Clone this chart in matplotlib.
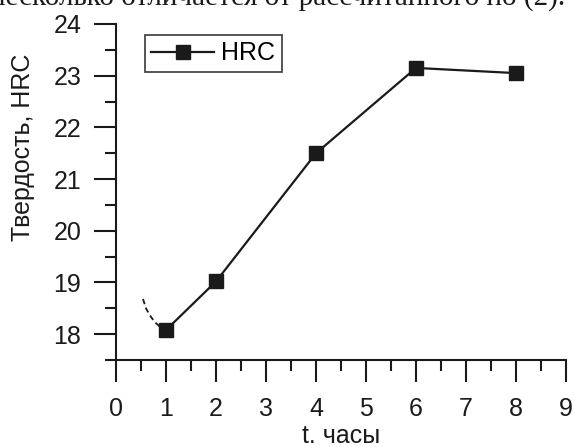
import matplotlib
matplotlib.use("Agg")
import matplotlib.pyplot as plt
from matplotlib.ticker import MultipleLocator

plt.rcParams['font.family'] = ['Liberation Sans', 'DejaVu Sans']

hours = [1, 2, 4, 6, 8]
hrc = [18.08, 19.02, 21.5, 23.15, 23.05]
dash_x = [0.54, 0.6, 0.68, 0.77, 0.87]
dash_y = [18.68, 18.5, 18.36, 18.24, 18.15]
xticks = list(range(0, 10))
yticks = list(range(18, 25))
header = "несколько отличается от рассчитанного по (2)."

FS = 18
fig = plt.figure(figsize=(5.74, 4.47), dpi=100)
ax = fig.add_axes([116/574, 1-360/447, 450/574, 336/447])

ax.plot(hours, hrc, color='#1a1a1a', lw=1.6, marker='s', ms=10, mfc='#1a1a1a', mec='#1a1a1a', label='HRC', zorder=3)
ax.plot(dash_x, dash_y, color='#1a1a1a', lw=1.3, ls=(0, (3, 2)))

ax.set_xlim(0, 9)
ax.set_ylim(17.5, 24)
ax.set_xticks(xticks)
ax.set_yticks(yticks)
ax.xaxis.set_minor_locator(MultipleLocator(0.5))
ax.yaxis.set_minor_locator(MultipleLocator(0.5))
for s in ['top', 'right']:
    ax.spines[s].set_visible(False)
for s in ['left', 'bottom']:
    ax.spines[s].set_linewidth(1.5)
    ax.spines[s].set_color('#1a1a1a')
ax.tick_params(axis='both', which='major', direction='out', length=16, width=1.5, colors='#1a1a1a', labelsize=FS, labelcolor='#1a1a1a')
ax.tick_params(axis='both', which='minor', direction='out', length=8, width=1.5, colors='#1a1a1a')
ax.tick_params(axis='x', which='major', pad=11)
ax.tick_params(axis='y', which='major', pad=9)
fig.text(341/574, 1-443/447, 't. часы', ha='center', va='baseline', fontsize=FS, color='#1a1a1a')
fig.text(23/574, 1-147/447, 'Твердость, HRC', rotation=90, ha='center', va='center', fontsize=FS, color='#1a1a1a')

leg = ax.legend(loc='upper left', bbox_to_anchor=(29/450, 1-11/336), fontsize=FS, frameon=True, fancybox=False,
                handlelength=2.5, handletextpad=0.3, borderpad=0.25, borderaxespad=0)
leg.get_frame().set_edgecolor('#1a1a1a')
leg.get_frame().set_linewidth(1.3)

fig.text(565/574, 1-5/447, header, ha='right', va='baseline', fontsize=21, family='Liberation Serif', color='#1a1a1a')

fig.savefig('out.png', dpi=100)
